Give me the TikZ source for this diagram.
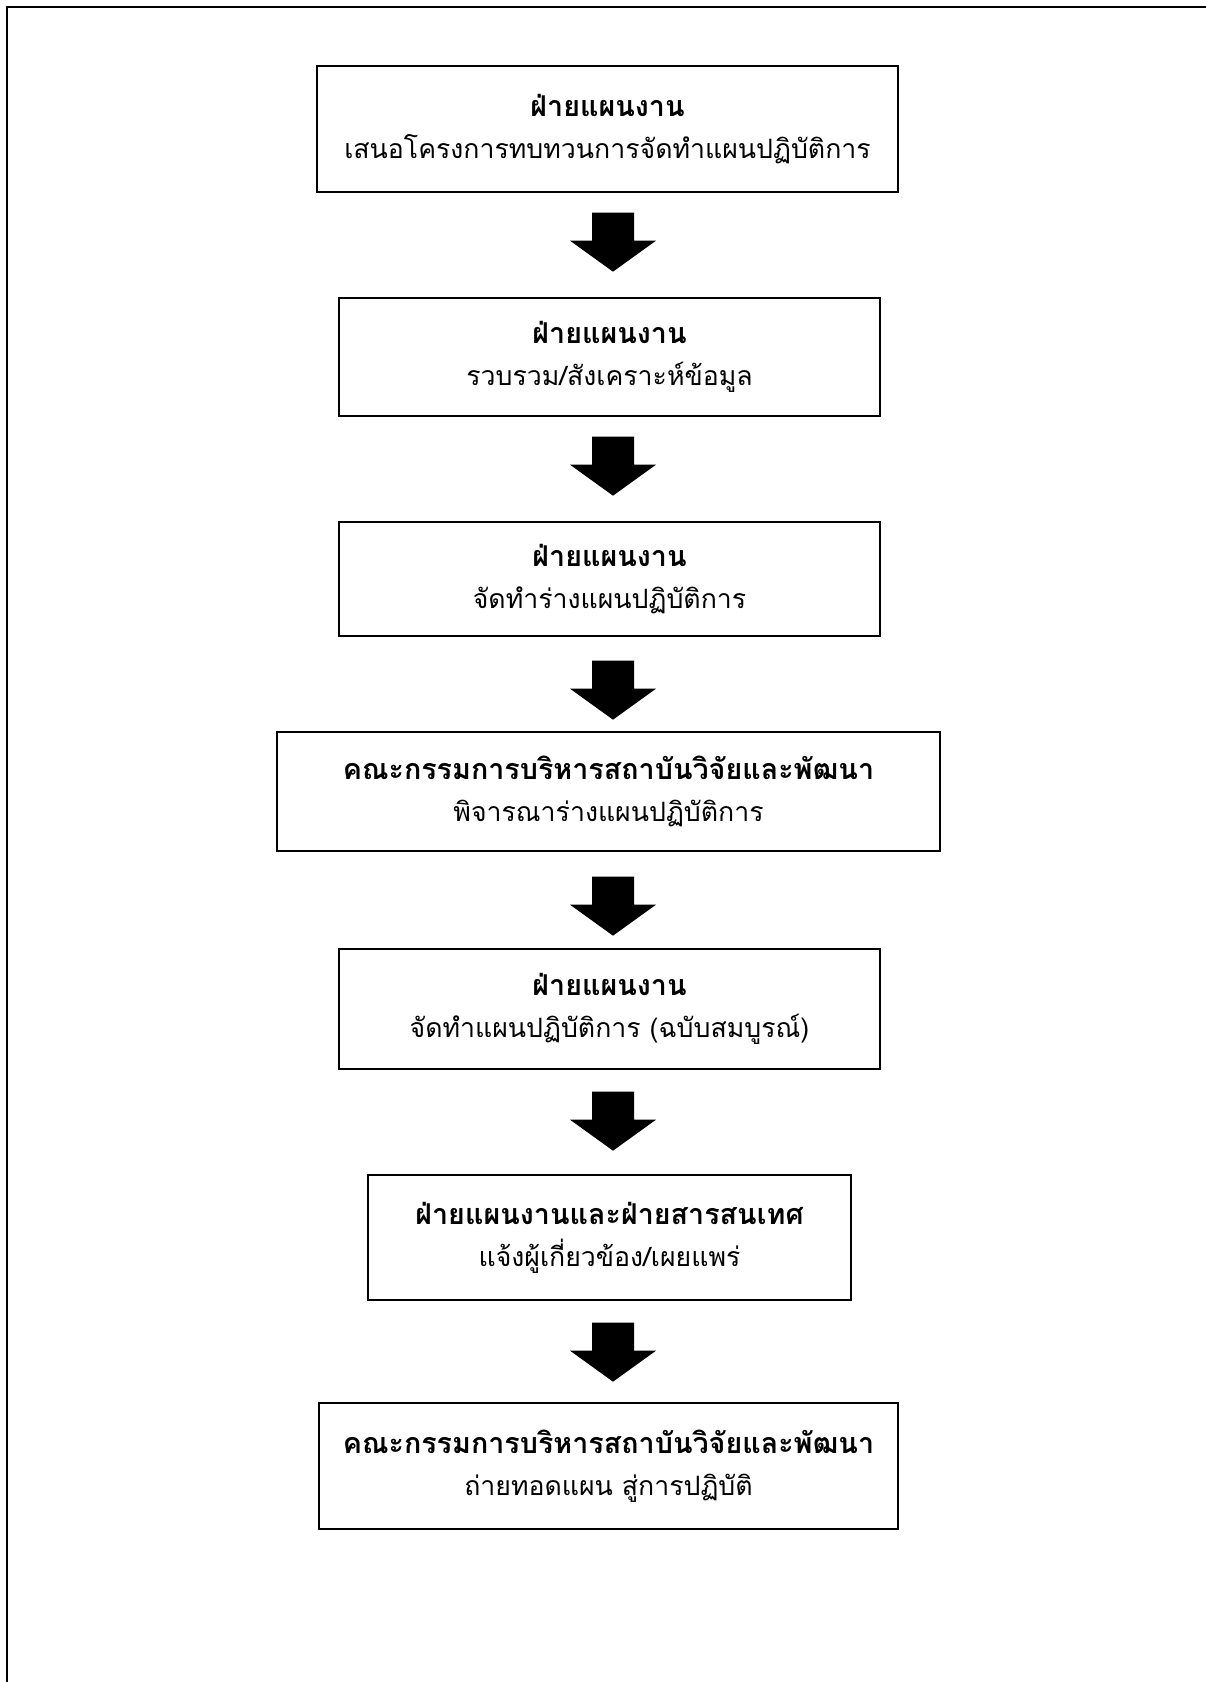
\documentclass[tikz,border=0pt]{standalone}
\usepackage{fontspec}
\newfontfamily\thaifont[Script=Thai]{Loma}
\usetikzlibrary{calc}
\tikzset{
  stepbox/.style={draw, line width=1pt, inner sep=0pt, align=center,
    font=\thaifont\fontsize{20}{31.5}\selectfont},
  frameline/.style={line width=1.5pt}
}
\newcommand{\headtext}[1]{{\fontsize{21.5}{31.5}\selectfont\bfseries #1}}
% block arrow from box #1 to box #2, top edge #3 px below #1
\newcommand{\blockarrow}[3]{%
  \path let \p1=(#1.south) in coordinate (m) at (459.75pt, \y1-#3*0.75pt);
  \fill[name=arr] ($(m)+(-21,0)$) -- ($(m)+(21,0)$) -- ($(m)+(21,28)$)
    -- ($(m)+(43,28)$) -- ($(m)+(0,59)$) -- ($(m)+(-43,28)$)
    -- ($(m)+(-21,28)$) -- cycle;
}
\begin{document}
\begin{tikzpicture}[x=0.75pt,y=-0.75pt]
\useasboundingbox (0,0) rectangle (1206,1682);
\fill[white] (0,0) rectangle (1206,1682);
\draw[frameline] (7,1682) -- (7,7) -- (1206,7);
\node[stepbox, minimum width=581*0.75pt, minimum height=126*0.75pt] (b1) at (607.5,129)
  {\headtext{ฝ่ายแผนงาน}\\เสนอโครงการทบทวนการจัดทำแผนปฏิบัติการ};
\node[stepbox, minimum width=541*0.75pt, minimum height=118*0.75pt] (b2) at (609.5,357)
  {\headtext{ฝ่ายแผนงาน}\\รวบรวม/สังเคราะห์ข้อมูล};
\node[stepbox, minimum width=541*0.75pt, minimum height=114*0.75pt] (b3) at (609.5,579)
  {\headtext{ฝ่ายแผนงาน}\\จัดทำร่างแผนปฏิบัติการ};
\node[stepbox, minimum width=663*0.75pt, minimum height=119*0.75pt] (b4) at (608.5,791.5)
  {\headtext{คณะกรรมการบริหารสถาบันวิจัยและพัฒนา}\\พิจารณาร่างแผนปฏิบัติการ};
\node[stepbox, minimum width=541*0.75pt, minimum height=120*0.75pt] (b5) at (609.5,1009)
  {\headtext{ฝ่ายแผนงาน}\\จัดทำแผนปฏิบัติการ (ฉบับสมบูรณ์)};
\node[stepbox, minimum width=483*0.75pt, minimum height=125*0.75pt] (b6) at (609.5,1237.5)
  {\headtext{ฝ่ายแผนงานและฝ่ายสารสนเทศ}\\แจ้งผู้เกี่ยวข้อง/เผยแพร่};
\node[stepbox, minimum width=579*0.75pt, minimum height=126*0.75pt] (b7) at (608.5,1466)
  {\headtext{คณะกรรมการบริหารสถาบันวิจัยและพัฒนา}\\ถ่ายทอดแผน สู่การปฏิบัติ};
\blockarrow{b1}{b2}{20}
\blockarrow{b2}{b3}{20}
\blockarrow{b3}{b4}{24}
\blockarrow{b4}{b5}{25}
\blockarrow{b5}{b6}{22}
\blockarrow{b6}{b7}{22}
\end{tikzpicture}
\end{document}
